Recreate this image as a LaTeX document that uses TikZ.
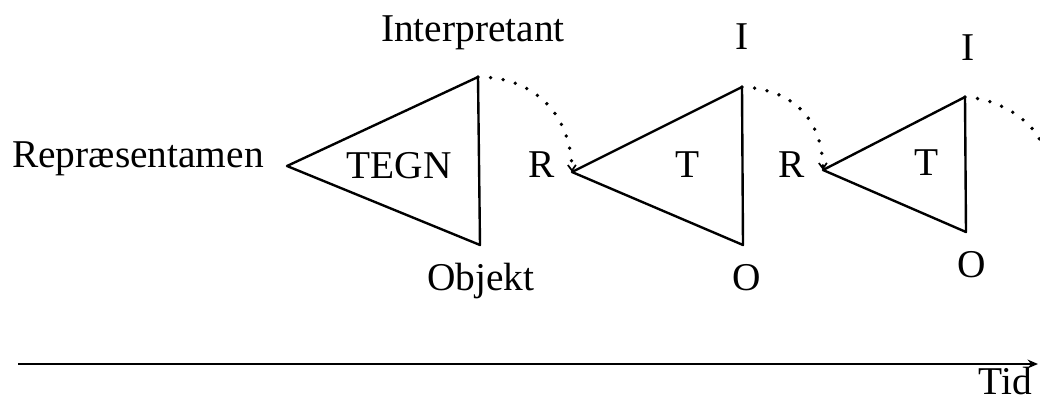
\documentclass[tikz,border=0pt]{standalone}
\usepackage{fontspec}
\setmainfont{Liberation Serif}
\usetikzlibrary{arrows.meta}

\begin{document}
\begin{tikzpicture}[x=0.025cm,y=-0.025cm]
\tikzset{
  label/.style={inner sep=0pt,anchor=base,font=\fontsize{28}{32}\selectfont},
  signedge/.style={draw=black,line width=1.7pt,line join=round,line cap=round},
  flow/.style={draw=black,line width=2.7pt,line cap=round,dash pattern=on 0pt off 9pt,-{Straight Barb[length=1.4mm,width=2mm,line width=1.2pt]}},
  flowopen/.style={draw=black,line width=2.7pt,line cap=round,dash pattern=on 0pt off 9pt},
  timeline/.style={draw=black,line width=1.6pt,-{Stealth[length=2.6mm,width=2.2mm]}}
}
\useasboundingbox (0,0) rectangle (1040,401);
% triangle corners
\coordinate (t1l) at (287,166);
\coordinate (t1t) at (478,77);
\coordinate (t1b) at (480,245);
\coordinate (t2l) at (572,172);
\coordinate (t2t) at (742,87);
\coordinate (t2b) at (743,245);
\coordinate (t3l) at (823,170);
\coordinate (t3t) at (965,97);
\coordinate (t3b) at (966,232);
\coordinate (arcend) at (1040,140);
\coordinate (tstart) at (18,364);
\coordinate (tend) at (1038,364);
% labels
\node[label] (n_int) at (473,42) {Interpretant};
\node[label] (n_i1) at (742,50) {I};
\node[label] (n_i2) at (968,60) {I};
\node[label] (n_rep) at (138,167) {Repræsentamen};
\node[label] (n_tegn) at (399,178) {TEGN};
\node[label] (n_r1) at (542,177) {R};
\node[label] (n_t1) at (688,177) {T};
\node[label] (n_r2) at (792,177) {R};
\node[label] (n_t2) at (927,175) {T};
\node[label] (n_obj) at (481,290) {Objekt};
\node[label] (n_o1) at (747,290) {O};
\node[label] (n_o2) at (972,277) {O};
\node[label,anchor=base east] (n_tid) at (1032,394) {Tid};
% triangles
\draw[signedge] (t1l) -- (t1t) -- (t1b) -- cycle;
\draw[signedge] (t2l) -- (t2t) -- (t2b) -- cycle;
\draw[signedge] (t3l) -- (t3t) -- (t3b) -- cycle;
% interpretant becomes the next representamen
\draw[flow] (t1t) .. controls (535,77) and (571,115) .. (t2l);
\draw[flow] (t2t) .. controls (792,89) and (822,118) .. (t3l);
\draw[flowopen] (t3t) .. controls (1000,99) and (1030,120) .. (arcend);
% time axis
\draw[timeline] (tstart) -- (tend);
\end{tikzpicture}
\end{document}
